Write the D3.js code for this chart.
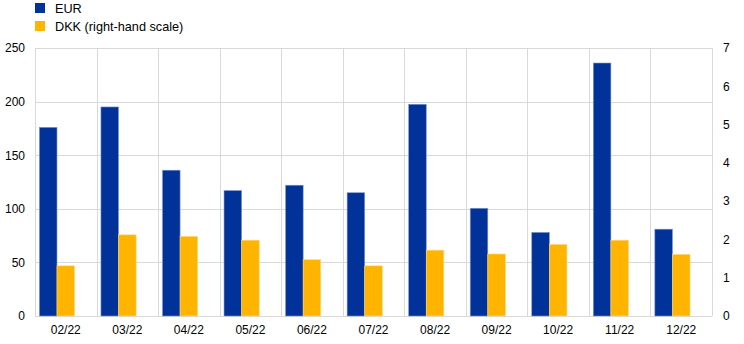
<!DOCTYPE html>
<html>
<head>
<meta charset="utf-8">
<script src="https://cdn.jsdelivr.net/npm/d3@7"></script>
<style>
  body { margin: 0; background: #fff; }
  text { font-family: Arial, "Liberation Sans", sans-serif; fill: #000; }
</style>
</head>
<body>
<div id="chart"></div>
<script>
// categories and series
const months = ['02/22', '03/22', '04/22', '05/22', '06/22', '07/22', '08/22', '09/22', '10/22', '11/22', '12/22'];
const eur = [176, 195, 136, 117, 122, 115, 197.5, 100.5, 78, 236, 81];
const dkk = [1.31, 2.12, 2.08, 1.98, 1.47, 1.31, 1.72, 1.62, 1.87, 1.98, 1.61];
const leftTicks = [0, 50, 100, 150, 200, 250];
const rightTicks = [0, 1, 2, 3, 4, 5, 6, 7];

const width = 744, height = 344;
const margin = {top: 48, right: 32, bottom: 28, left: 35};

const svg = d3.select('#chart').append('svg')
  .attr('width', width)
  .attr('height', height);

const w = width - margin.left - margin.right;
const h = height - margin.top - margin.bottom;

const x = d3.scaleBand().domain(months).range([0, w]).padding(0);
// third slot left empty, as in the original
const xi = d3.scaleBand().domain(['EUR', 'DKK', 'none'])
  .range([0, x.bandwidth()]).paddingOuter(0.25).paddingInner(0);

const yL = d3.scaleLinear().domain([0, 250]).range([h, 0]);
const yR = d3.scaleLinear().domain([0, 7]).range([h, 0]);

const g = svg.append('g')
  .attr('transform', 'translate(' + margin.left + ',' + margin.top + ')');

// grid
g.selectAll('.hgrid').data(leftTicks)
  .enter().append('line')
  .attr('x1', 0).attr('x2', w)
  .attr('y1', d => Math.round(yL(d)) + 0.5)
  .attr('y2', d => Math.round(yL(d)) + 0.5)
  .attr('stroke', '#d9d9d9');

g.selectAll('.vgrid').data(months.concat(['end']))
  .enter().append('line')
  .attr('x1', (d, i) => Math.round(i * x.step()) + 0.5)
  .attr('x2', (d, i) => Math.round(i * x.step()) + 0.5)
  .attr('y1', 0).attr('y2', h)
  .attr('stroke', '#d9d9d9');

// bars
g.selectAll('.bar-eur').data(eur)
  .enter().append('rect')
  .attr('x', (d, i) => x(months[i]) + xi('EUR'))
  .attr('y', d => yL(d))
  .attr('width', xi.bandwidth())
  .attr('height', d => h - yL(d))
  .attr('fill', '#003299')
  .attr('stroke', '#7f98cc').attr('stroke-width', 0.6);

g.selectAll('.bar-dkk').data(dkk)
  .enter().append('rect')
  .attr('x', (d, i) => x(months[i]) + xi('DKK'))
  .attr('y', d => yR(d))
  .attr('width', xi.bandwidth())
  .attr('height', d => h - yR(d))
  .attr('fill', '#ffb400')
  .attr('stroke', '#ffd980').attr('stroke-width', 0.6);

// axes
const axL = g.append('g')
  .call(d3.axisLeft(yL).tickValues(leftTicks).tickSize(0).tickPadding(10));
axL.select('.domain').remove();
axL.selectAll('text').style('font-size', '12px');

const axR = g.append('g')
  .attr('transform', 'translate(' + w + ',0)')
  .call(d3.axisRight(yR).tickValues(rightTicks).tickFormat(d3.format('d')).tickSize(0).tickPadding(11));
axR.select('.domain').remove();
axR.selectAll('text').style('font-size', '12px');

const axB = g.append('g')
  .attr('transform', 'translate(0,' + h + ')')
  .call(d3.axisBottom(x).tickSize(0).tickPadding(9));
axB.select('.domain').remove();
axB.selectAll('text').style('font-size', '12px');

// legend
const legend = svg.append('g');
const items = [{name: 'EUR', color: '#003299'}, {name: 'DKK (right-hand scale)', color: '#ffb400'}];
items.forEach((it, i) => {
  legend.append('rect')
    .attr('x', 35).attr('y', 3 + i * 18)
    .attr('width', 10).attr('height', 10)
    .attr('fill', it.color);
  legend.append('text')
    .attr('x', 55).attr('y', 12.5 + i * 18)
    .style('font-size', '12.7px')
    .text(it.name);
});
</script>
</body>
</html>
